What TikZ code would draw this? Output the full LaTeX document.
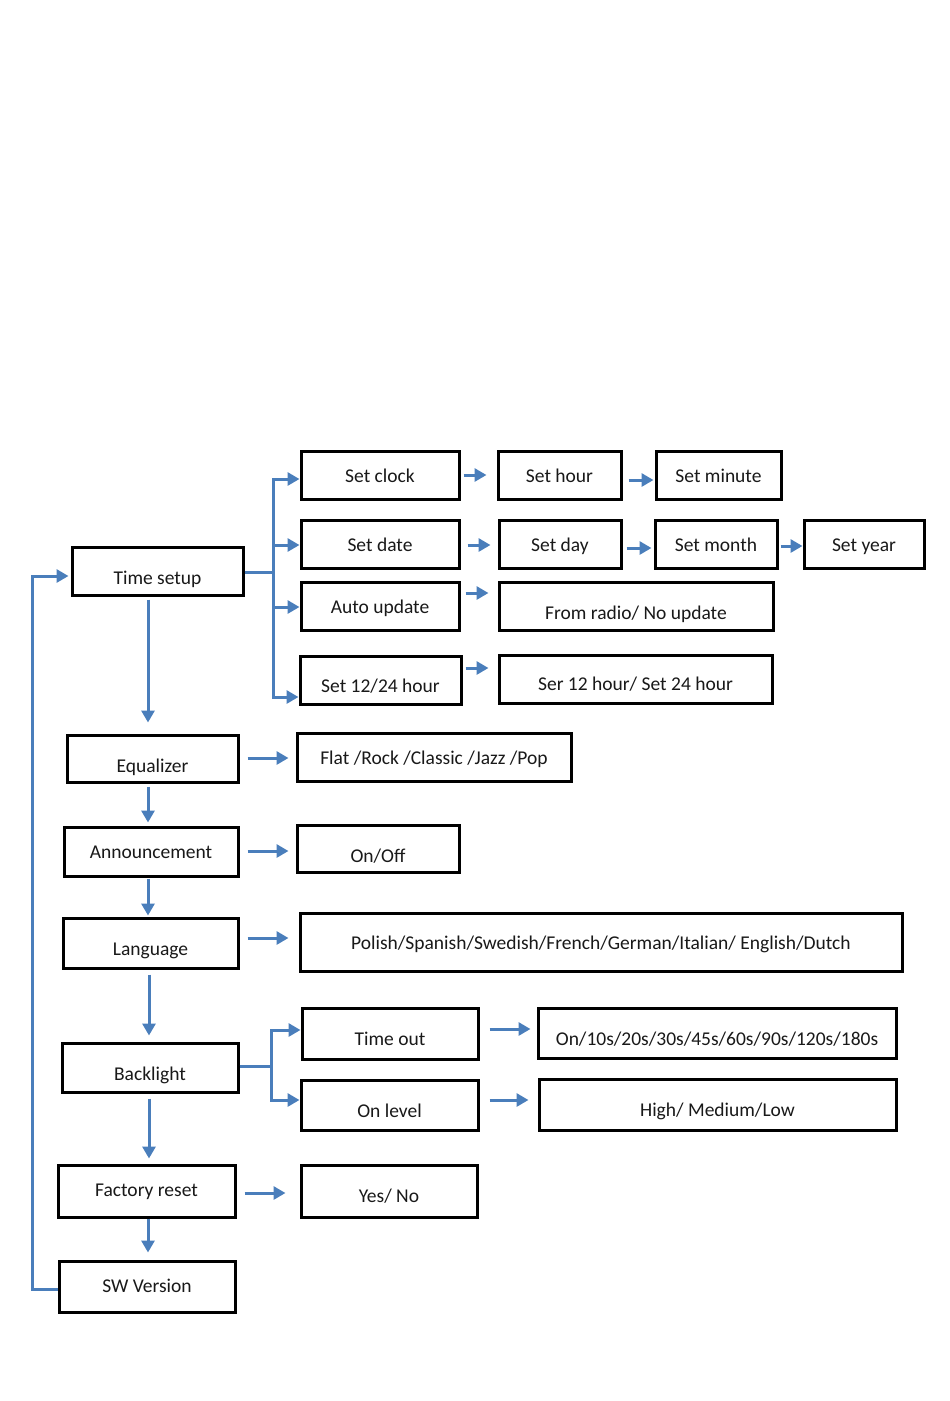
\documentclass[tikz,border=0pt]{standalone}
\usepackage{fontspec}
\setmainfont{Carlito}
\usetikzlibrary{arrows.meta}
\definecolor{lblue}{HTML}{4A7EBB}
\newcommand\mybox[7]{\node[box,minimum width={#4-#2},minimum height={#5-#3},label={[lbl,yshift=#7]center:#6}] (#1) at ({(#2+#4)/2},{(#3+#5)/2}) {};}
\begin{document}
\begin{tikzpicture}[x=1pt,y=-1pt,
 box/.style={draw=black,line width=3pt,rectangle,inner sep=0pt,fill=white},
 lbl/.style={font=\fontsize{19.5}{22}\selectfont,text height=18pt,text depth=4pt,inner sep=0pt,text=black!90},
 arr/.style={draw=lblue,line width=3pt,-{Triangle[length=12pt,width=13pt]}},
 ln/.style={draw=lblue,line width=3pt}]
\useasboundingbox (0,0) rectangle (950,1401);
% boxes
\mybox{ts}{72}{547}{243}{595}{Time setup}{-6pt}
\mybox{sc}{301}{451}{459}{499}{Set clock}{0pt}
\mybox{sh}{498}{451}{621}{499}{Set hour}{0pt}
\mybox{sm}{656}{451}{781}{499}{Set minute}{0pt}
\mybox{sd}{301}{520}{459}{568}{Set date}{0pt}
\mybox{sday}{499}{520}{621}{568}{Set day}{0pt}
\mybox{smo}{655}{520}{777}{568}{Set month}{0pt}
\mybox{sy}{804}{520}{924}{568}{Set year}{0pt}
\mybox{au}{301}{582}{459}{630}{Auto update}{0pt}
\mybox{rad}{499}{582}{773}{630}{From radio/ No update}{-6pt}
\mybox{stw}{300}{656}{461}{704}{Set 12/24 hour}{-5pt}
\mybox{ser}{499}{655}{772}{703}{Ser 12 hour/ Set 24 hour}{-4pt}
\mybox{eq}{67}{735}{238}{782}{Equalizer}{-6.5pt}
\mybox{flat}{297}{733}{571}{781}{Flat /Rock /Classic /Jazz /Pop}{0pt}
\mybox{ann}{64}{827}{238}{876}{Announcement}{0pt}
\mybox{oo}{297}{825}{459}{872}{On/Off}{-6.5pt}
\mybox{lang}{63}{918}{238}{968}{Language}{-5pt}
\mybox{pol}{300}{913}{902}{971}{Polish/Spanish/Swedish/French/German/Italian/ English/Dutch}{0pt}
\mybox{bl}{62}{1043}{238}{1092}{Backlight}{-5.5pt}
\mybox{tout}{302}{1008}{478}{1059}{Time out}{-4.5pt}
\mybox{ol}{301}{1080}{478}{1130}{On level}{-5pt}
\mybox{onten}{538}{1008}{896}{1058}{On/10s/20s/30s/45s/60s/90s/120s/180s}{-5pt}
\mybox{high}{539}{1079}{896}{1130}{High/ Medium/Low}{-4.5pt}
\mybox{fr}{58}{1165}{235}{1217}{Factory reset}{2pt}
\mybox{yes}{301}{1165}{477}{1217}{Yes/ No}{-4pt}
\mybox{sw}{59}{1261}{235}{1312}{SW Version}{1pt}
% helper coordinates
\coordinate (xa) at (148,0);
\coordinate (xb) at (149,0);
\coordinate (tt) at (273,572);
\coordinate (bt) at (271,1066);
\coordinate (rl) at (32,576);
% main column
\draw[arr,shorten <=3pt,shorten >=11pt] (ts.south -| xa) -- (eq.north -| xa);
\draw[arr,shorten <=3pt,shorten >=3pt] (eq.south -| xa) -- (ann.north -| xa);
\draw[arr,shorten <=1pt,shorten >=1pt] (ann.south -| xa) -- (lang.north -| xa);
\draw[arr,shorten <=5pt,shorten >=6pt] (lang.south -| xb) -- (bl.north -| xb);
\draw[arr,shorten <=5pt,shorten >=5pt] (bl.south -| xb) -- (fr.north -| xb);
\draw[arr,shorten >=7pt] (fr.south -| xa) -- (sw.north -| xa);
% time setup branches
\draw[ln] ([yshift=-1pt]ts.east) -- (tt);
\draw[arr] (tt) |- ([yshift=-4pt]sc.west);
\draw[arr] (tt) |- ([yshift=-1pt]sd.west);
\draw[arr] (tt) |- ([yshift=-1pt]au.west);
\draw[arr] (tt) |- ([yshift=-17pt]stw.west);
\draw[arr,shorten <=3pt,shorten >=10pt] (sc.east) -- (sh.west);
\draw[arr,shorten <=6pt,shorten >=1pt] ([yshift=-5pt]sh.east) -- ([yshift=-5pt]sm.west);
\draw[arr,shorten <=7pt,shorten >=7pt] ([yshift=-1pt]sd.east) -- ([yshift=-1pt]sday.west);
\draw[arr,shorten <=4pt,shorten >=2pt] ([yshift=-4pt]sday.east) -- ([yshift=-4pt]smo.west);
\draw[arr,shorten <=2pt] ([yshift=-2pt]smo.east) -- ([yshift=-2pt]sy.west);
\draw[arr,shorten <=5pt,shorten >=9pt] ([yshift=13pt]au.east) -- ([yshift=13pt]rad.west);
\draw[arr,shorten <=3pt,shorten >=9pt] ([yshift=12pt]stw.east) -- ([yshift=11pt]ser.west);
% side arrows
\draw[arr,shorten <=8pt,shorten >=7pt] ([yshift=0.5pt]eq.east) -- ([yshift=-1pt]flat.west);
\draw[arr,shorten <=8pt,shorten >=7pt] ([yshift=0.5pt]ann.east) -- ([yshift=-2.5pt]oo.west);
\draw[arr,shorten <=8pt,shorten >=10pt] ([yshift=5pt]lang.east) -- ([yshift=4pt]pol.west);
\draw[ln] ([yshift=1.5pt]bl.east) -- (bt);
\draw[arr] (bt) |- ([yshift=3.5pt]tout.west);
\draw[arr] (bt) |- ([yshift=5pt]ol.west);
\draw[arr,shorten <=10pt,shorten >=6pt] ([yshift=4.5pt]tout.east) -- ([yshift=4pt]onten.west);
\draw[arr,shorten <=10pt,shorten >=9pt] ([yshift=5pt]ol.east) -- ([yshift=4.5pt]high.west);
\draw[arr,shorten <=8pt,shorten >=14pt] ([yshift=-2pt]fr.east) -- ([yshift=-2pt]yes.west);
% return loop
\draw[arr,shorten >=2pt] ([yshift=-2.5pt]sw.west) -| (rl) -- ([yshift=-5pt]ts.west);
\end{tikzpicture}
\end{document}
